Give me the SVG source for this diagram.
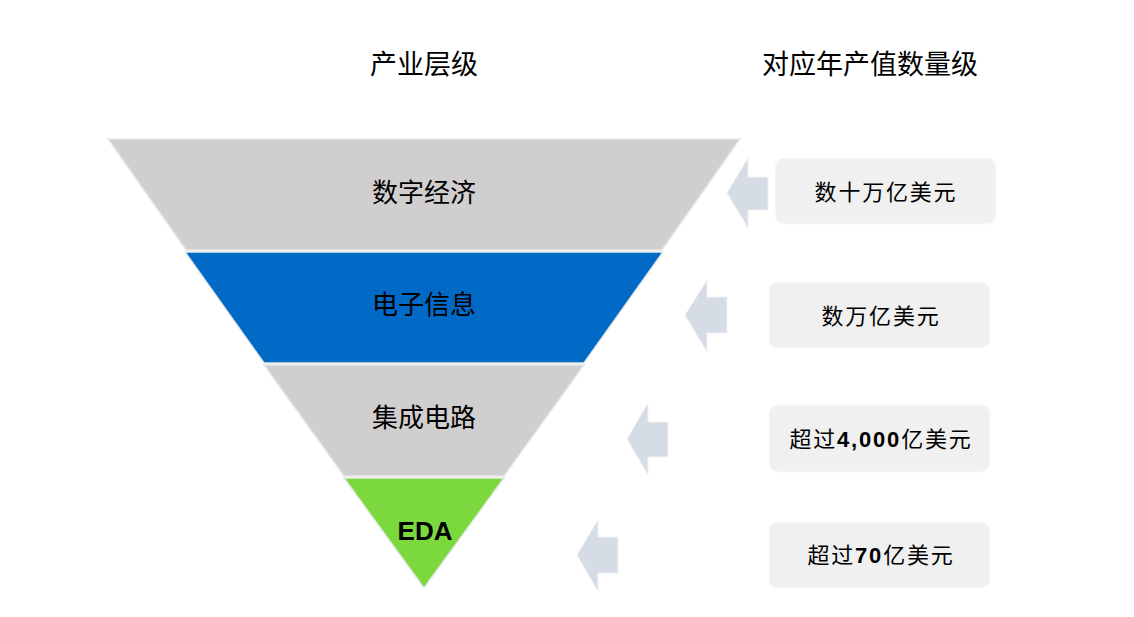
<svg xmlns="http://www.w3.org/2000/svg" width="1134" height="617" viewBox="0 0 1134 617">
<style>
.t{font-family:"Liberation Sans","Noto Sans CJK SC",sans-serif;fill:#000;text-anchor:middle;dominant-baseline:central}
.h{font-size:27px}
.lv{font-size:26px}
.v{font-size:22px;letter-spacing:1.8px}
.b{font-weight:bold}
.band{stroke:#E8E8E8;stroke-width:1.5}
.box{fill:#F0F0F0;stroke:#FAFAFA;stroke-width:1}
.arr{fill:#D6DCE5;stroke:#F2F2F2;stroke-width:1}
</style>
<rect width="1134" height="617" fill="#fff"/>
<g id="headers">
<text class="t h" x="424" y="65">产业层级</text>
<text class="t h" x="870" y="65">对应年产值数量级</text>
</g>
<g id="level-digital-economy">
<polygon class="band" points="108,139 740,139 662,250 186,250" fill="#D0CECE"/>
<text class="t lv" x="424" y="193">数字经济</text>
</g>
<g id="level-electronics">
<polygon class="band" points="185,252 663,252 584,363 264,363" fill="#006AC6"/>
<text class="t lv" x="424" y="305">电子信息</text>
</g>
<g id="level-ic">
<polygon class="band" points="264,365 584,365 504,476 344,476" fill="#D0CECE"/>
<text class="t lv" x="424" y="418">集成电路</text>
</g>
<g id="level-eda">
<polygon class="band" points="344,478 504,478 424,588" fill="#7CD93D"/>
<text class="t lv b" x="425" y="531">EDA</text>
</g>
<g id="value-1">
<rect class="box" x="775" y="158" width="221" height="66" rx="9"/>
<text class="t v" x="886" y="192">数十万亿美元</text>
</g>
<g id="value-2">
<rect class="box" x="769" y="282" width="221" height="66" rx="9"/>
<text class="t v" x="881" y="316">数万亿美元</text>
</g>
<g id="value-3">
<rect class="box" x="769" y="405" width="221" height="67" rx="9"/>
<text class="t v" x="881" y="439">超过<tspan class="b">4,000</tspan>亿美元</text>
</g>
<g id="value-4">
<rect class="box" x="769" y="522" width="221" height="66" rx="9"/>
<text class="t v" x="881" y="555">超过<tspan class="b">70</tspan>亿美元</text>
</g>
<g id="connectors">
<polygon class="arr" points="727,193 748,158 748,177 768,177 768,210 748,210 748,228"/>
<polygon class="arr" points="685,315 707,280 707,297 727,297 727,333 707,333 707,352"/>
<polygon class="arr" points="627,439 648,403 648,422 668,422 668,457 648,457 648,475"/>
<polygon class="arr" points="577,555 598,520 598,537 618,537 618,573 598,573 598,591"/>
</g>
</svg>
